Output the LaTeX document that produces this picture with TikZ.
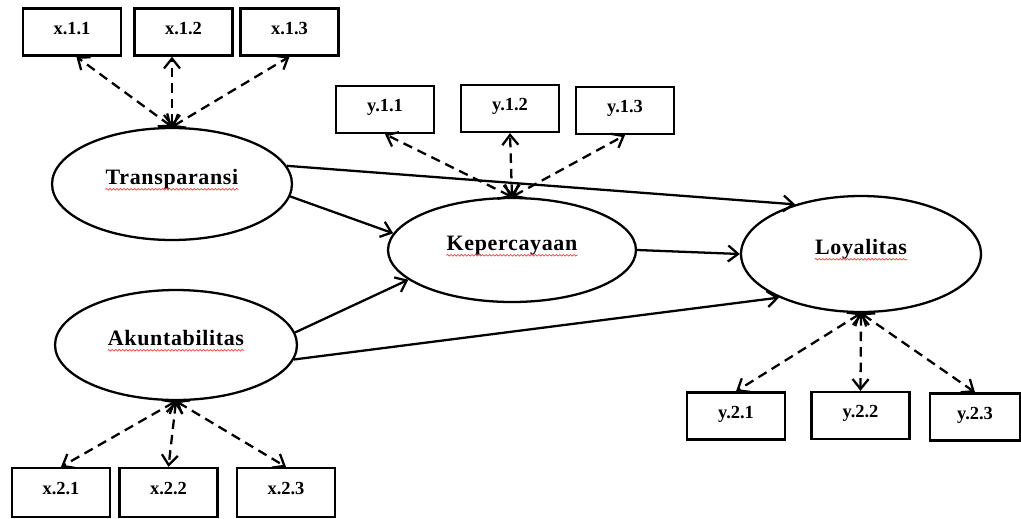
\documentclass[tikz,border=0pt]{standalone}
\usepackage{fontspec}
\setmainfont{Liberation Serif}
\newfontfamily\latentfont[LetterSpace=3]{Liberation Serif}
\usetikzlibrary{arrows.meta,shapes.geometric,decorations.pathmorphing}

\tikzset{
  latent/.style={draw, ellipse, line width=1.3pt, inner sep=0pt},
  latentlbl/.style={anchor=base, inner sep=0pt,
    font=\latentfont\bfseries\fontsize{12.5}{15}\selectfont},
  indicator/.style={draw, line width=1.3pt, inner sep=0pt,
    minimum width=1.96cm, minimum height=0.94cm,
    text height=1.6ex, text depth=1ex,
    font=\bfseries\fontsize{10.5}{12}\selectfont},
  effect/.style={-{Straight Barb[length=2mm,width=3.2mm]}, line width=1.3pt},
  loading/.style={{Straight Barb[length=2mm,width=3.2mm]}-{Straight Barb[length=2mm,width=3.2mm]},
    line width=1.3pt, dash pattern=on 1.9mm off 1.2mm},
  squiggle/.style={red!75, line width=0.4pt, decorate,
    decoration={snake, amplitude=0.45pt, segment length=2pt}}
}

\begin{document}
\begin{tikzpicture}[x=0.02cm, y=-0.02cm]
\useasboundingbox (0,0) rectangle (1021,518);

% latent variables
\node[latent, minimum width=4.8cm, minimum height=2.24cm] (trans) at (172,184) {};
\node[latent, minimum width=4.96cm, minimum height=2.08cm] (kep) at (512,250) {};
\node[latent, minimum width=4.8cm, minimum height=2.32cm] (loyal) at (861,254) {};
\node[latent, minimum width=4.84cm, minimum height=2.2cm] (akun) at (176,345) {};

\node[latentlbl] (translbl) at (trans.center) {Transparansi};
\node[latentlbl] (keplbl) at (kep.center) {Kepercayaan};
\node[latentlbl] (loyallbl) at (loyal.center) {Loyalitas};
\node[latentlbl] (akunlbl) at (akun.center) {Akuntabilitas};

\foreach \lbl in {translbl,keplbl,loyallbl,akunlbl}
  \draw[squiggle] ([yshift=-3pt]\lbl.base west) -- ([yshift=-3pt]\lbl.base east);

% indicators
\node[indicator] (x11) at (72,32) {x.1.1};
\node[indicator] (x12) at (183.5,32) {x.1.2};
\node[indicator] (x13) at (289.5,32) {x.1.3};

\node[indicator] (y11) at (385,109.5) {y.1.1};
\node[indicator] (y12) at (510,108.5) {y.1.2};
\node[indicator] (y13) at (625,110.5) {y.1.3};

\node[indicator, minimum height=0.98cm] (x21) at (61,492.5) {x.2.1};
\node[indicator, minimum height=0.98cm] (x22) at (168.5,492.5) {x.2.2};
\node[indicator, minimum height=0.98cm] (x23) at (286,492.5) {x.2.3};

\node[indicator] (y21) at (736,416) {y.2.1};
\node[indicator] (y22) at (860.5,415.5) {y.2.2};
\node[indicator, minimum width=1.8cm] (y23) at (975,417) {y.2.3};

% loadings
\draw[loading] (trans.north) -- (x11.-80);
\draw[loading] (trans.north) -- (x12.south -| trans.north);
\draw[loading] (trans.north) -- (x13.south);
\foreach \ind in {y11,y12,y13}
  \draw[loading] (kep.north) -- (\ind.south);
\foreach \ind in {x21,x22,x23}
  \draw[loading] (akun.south) -- (\ind.north);
\foreach \ind in {y21,y22,y23}
  \draw[loading] (loyal.south) -- (\ind.north);

% structural paths
\draw[effect] (trans.9) -- (loyal.143);
\draw[effect] (trans.-6) -- (kep.172);
\draw[effect] (kep.east) -- (loyal.west);
\draw[effect] (akun.6) -- (kep.196);
\draw[effect] (akun.-7) -- (loyal.208);
\end{tikzpicture}
\end{document}
